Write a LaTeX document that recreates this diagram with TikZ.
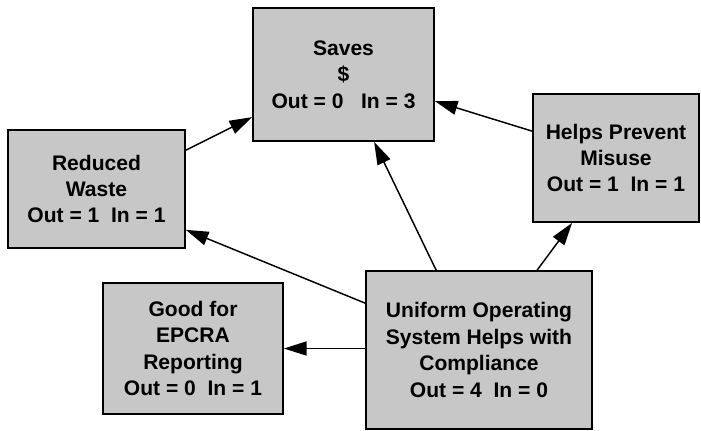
\documentclass[tikz,border=0pt]{standalone}
\usepackage{fontspec}
\setmainfont{Liberation Sans}
\usetikzlibrary{arrows.meta,calc}

\tikzset{
  factor/.style={draw=black, line width=1.3pt, fill=black!22, align=center,
    inner sep=0pt, font=\fontsize{15.8}{19.8}\selectfont\bfseries},
  link/.style={line width=1.1pt, -{Triangle[length=17pt,width=10.5pt]}},
}

\begin{document}
\begin{tikzpicture}[x=0.75pt, y=-0.75pt]
  \useasboundingbox (0,0) rectangle (701,430);

  % factor boxes
  \node[factor, minimum width=181*0.75pt, minimum height=133*0.75pt] (saves) at (343.5,74.5)
    {Saves\\\$\\Out = 0\ \ \ In = 3};
  \node[factor, minimum width=177*0.75pt, minimum height=118*0.75pt] (rw) at (96.5,189)
    {Reduced\\Waste\\Out = 1\ \ In = 1};
  \node[factor, minimum width=166*0.75pt, minimum height=128*0.75pt] (helps) at (616,158)
    {Helps Prevent\\Misuse\\Out = 1\ \ In = 1};
  \node[factor, minimum width=180*0.75pt, minimum height=131*0.75pt] (good) at (193,348.5)
    {Good for\\EPCRA\\Reporting\\Out = 0\ \ In = 1};
  \node[factor, minimum width=226*0.75pt, minimum height=158*0.75pt] (uni) at (479,350)
    {Uniform Operating\\System Helps with\\Compliance\\Out = 4\ \ In = 0};

  % influence links
  \draw[link] ($(rw.north east)+(0,21)$) -- ($(saves.north west)+(0,110)$);
  \draw[link] ($(helps.north west)+(0,38)$) -- ($(saves.north east)+(0,94)$);
  \draw[link] ($(uni.north west)+(71,0)$) -- ($(saves.south west)+(122,0)$);
  \draw[link] ($(uni.north west)+(0,33)$) -- ($(rw.south east)+(0,-19)$);
  \draw[link] ($(uni.north west)+(172,0)$) -- ($(helps.south west)+(40,0)$);
  \draw[link] (uni.west |- good.east) -- (good.east);
\end{tikzpicture}
\end{document}
